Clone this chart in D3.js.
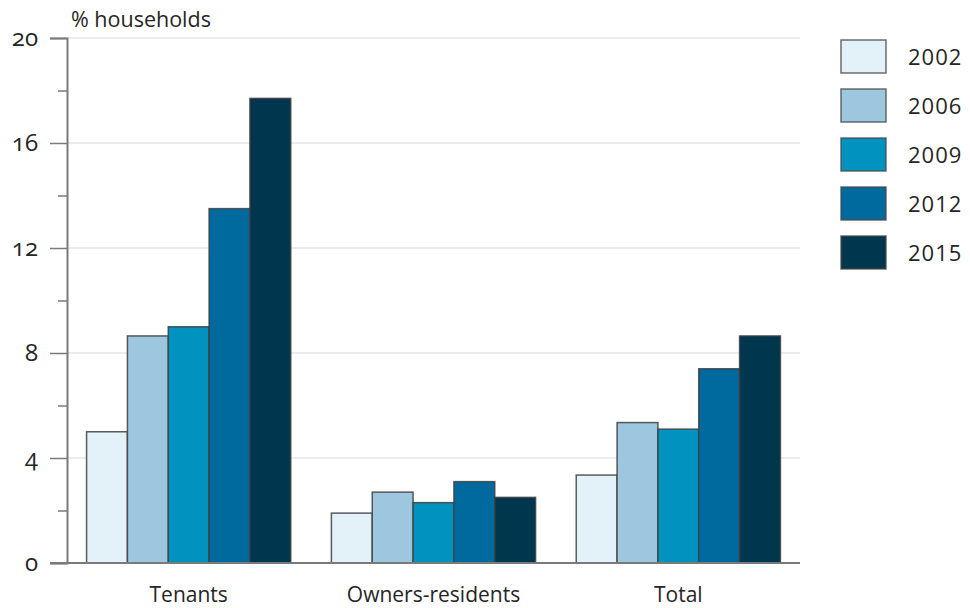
<!DOCTYPE html>
<html>
<head>
<meta charset="utf-8">
<script src="https://cdn.jsdelivr.net/npm/d3@7"></script>
<style>
  body { margin: 0; background: #fff; }
  svg text { font-family: "Open Sans", sans-serif; fill: #262626; }
</style>
</head>
<body>
<div id="chart"></div>
<script>
// data
const categories = ["Tenants", "Owners-residents", "Total"]
const years = ["2002", "2006", "2009", "2012", "2015"]
const values = {
  "2002": [5.0, 1.9, 3.35],
  "2006": [8.65, 2.7, 5.35],
  "2009": [9.0, 2.3, 5.1],
  "2012": [13.5, 3.1, 7.4],
  "2015": [17.7, 2.5, 8.65]
}
const yearColors = ["#e3f1f9", "#9cc7df", "#0093c0", "#006a9f", "#00374f"]
const majorTicks = [0, 4, 8, 12, 16, 20]
const minorTicks = [2, 6, 10, 14, 18]

const width = 970, height = 608
const plot = { left: 67, right: 800, top: 38, bottom: 563 }

const svg = d3.select("#chart").append("svg")
  .attr("width", width)
  .attr("height", height)

const x0 = d3.scaleBand()
  .domain(categories)
  .range([plot.left, plot.right])
  .paddingInner(0.166)
  .paddingOuter(0.08)

const x1 = d3.scaleBand()
  .domain(years)
  .range([0, x0.bandwidth()])

const y = d3.scaleLinear()
  .domain([0, 20])
  .range([plot.bottom, plot.top])

const color = d3.scaleOrdinal().domain(years).range(yearColors)

// gridlines
svg.append("g")
  .selectAll("line")
  .data(majorTicks.filter(d => d > 0))
  .enter()
  .append("line")
  .attr("x1", plot.left)
  .attr("x2", plot.right)
  .attr("y1", d => y(d))
  .attr("y2", d => y(d))
  .attr("stroke", "#e6e6e6")
  .attr("stroke-width", 1.5)

// bars
const rows = []
categories.forEach((c, i) => {
  years.forEach(yr => rows.push({ cat: c, year: yr, value: values[yr][i] }))
})

svg.append("g")
  .selectAll("rect")
  .data(rows)
  .enter()
  .append("rect")
  .attr("x", d => x0(d.cat) + x1(d.year))
  .attr("y", d => y(d.value))
  .attr("width", x1.bandwidth())
  .attr("height", d => y(0) - y(d.value))
  .attr("fill", d => color(d.year))
  .attr("stroke", "#3f3f3f")
  .attr("stroke-opacity", 0.85)
  .attr("stroke-width", 1.5)

// y axis: major ticks with labels, minor ticks without
const yAxis = svg.append("g")
  .attr("transform", `translate(${plot.left},0)`)
  .call(d3.axisLeft(y).tickValues(majorTicks).tickSize(17).tickPadding(12).tickFormat(d3.format("d")))

yAxis.select(".domain").attr("stroke", "#7a7a7a").attr("stroke-width", 2)
yAxis.selectAll(".tick line").attr("stroke", "#7a7a7a").attr("stroke-width", 1.5)
yAxis.selectAll(".tick text")
  .style("font-size", "24px")
  .style("font-feature-settings", "'onum'")
  .attr("fill", "#262626")

svg.append("g")
  .attr("transform", `translate(${plot.left},0)`)
  .call(d3.axisLeft(y).tickValues(minorTicks).tickSize(9).tickFormat(""))
  .call(g => g.select(".domain").remove())
  .selectAll(".tick line").attr("stroke", "#7a7a7a").attr("stroke-width", 1.5)

// baseline
svg.append("line")
  .attr("x1", plot.left - 17)
  .attr("x2", plot.right)
  .attr("y1", y(0))
  .attr("y2", y(0))
  .attr("stroke", "#7a7a7a")
  .attr("stroke-width", 2)

// category labels
svg.append("g")
  .selectAll("text")
  .data(categories)
  .enter()
  .append("text")
  .attr("x", d => x0(d) + x0.bandwidth() / 2)
  .attr("y", 602)
  .attr("text-anchor", "middle")
  .style("font-size", "21px")
  .text(d => d)

// unit label
svg.append("text")
  .attr("x", 71)
  .attr("y", 27)
  .style("font-size", "21.5px")
  .text("% households")

// legend
const legend = svg.append("g")
  .selectAll("g")
  .data(years)
  .enter()
  .append("g")
  .attr("transform", (d, i) => `translate(841,${40 + i * 49})`)

legend.append("rect")
  .attr("width", 45)
  .attr("height", 33)
  .attr("fill", d => color(d))
  .attr("stroke", "#4a4a4a")
  .attr("stroke-opacity", 0.8)
  .attr("stroke-width", 1.5)

legend.append("text")
  .attr("x", 67)
  .attr("y", 25)
  .style("font-size", "22px")
  .style("letter-spacing", "1px")
  .text(d => d)
</script>
</body>
</html>
